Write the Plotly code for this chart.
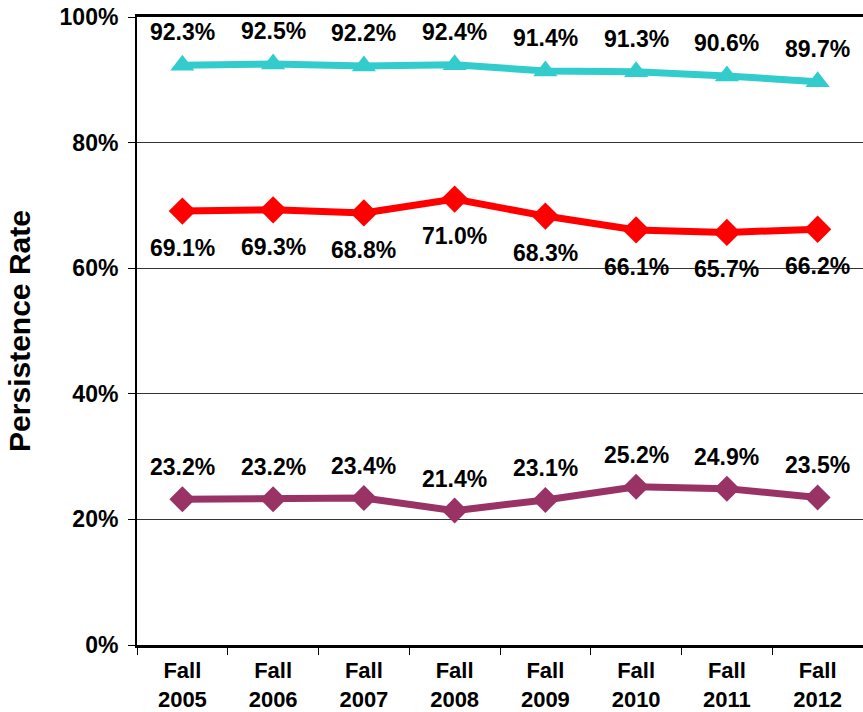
import plotly.graph_objects as go

terms = ["Fall<br>2005", "Fall<br>2006", "Fall<br>2007", "Fall<br>2008",
         "Fall<br>2009", "Fall<br>2010", "Fall<br>2011", "Fall<br>2012"]
cyan_vals = [92.3, 92.5, 92.2, 92.4, 91.4, 91.3, 90.6, 89.7]
red_vals = [69.1, 69.3, 68.8, 71.0, 68.3, 66.1, 65.7, 66.2]
purple_vals = [23.2, 23.2, 23.4, 21.4, 23.1, 25.2, 24.9, 23.5]

FONT = "Liberation Sans, Arial, sans-serif"

series = [
    (cyan_vals, "#33CCCC", "triangle-up", 21, 33),
    (red_vals, "#FF0000", "diamond", 21, -37),
    (purple_vals, "#993366", "diamond", 20, 32),
]

fig = go.Figure()
annotations = []
for vals, color, symbol, msize, shift in series:
    ys = [v / 100 for v in vals]
    fig.add_trace(go.Scatter(
        x=terms, y=ys, mode="lines+markers",
        line=dict(color=color, width=7),
        marker=dict(symbol=symbol, size=msize, color=color),
        showlegend=False, hoverinfo="skip",
    ))
    for t, v, y in zip(terms, vals, ys):
        annotations.append(dict(
            x=t, y=y, xref="x", yref="y", text=f"{v:.1f}%",
            showarrow=False, yshift=shift,
            font=dict(family=FONT, size=23, color="black", weight="bold"),
        ))

fig.update_layout(
    width=863, height=712,
    margin=dict(l=137, r=0, t=17, b=67),
    paper_bgcolor="white", plot_bgcolor="white",
    annotations=annotations,
    font=dict(family=FONT, color="black"),
)
fig.update_xaxes(
    type="category", range=[-0.5, 7.5], automargin=False,
    showline=True, linecolor="black", linewidth=3, mirror=True,
    ticks="outside", tickson="boundaries", ticklen=7, tickcolor="black", tickwidth=1,
    ticklabelstandoff=4, showgrid=False,
    tickfont=dict(family=FONT, size=22, color="black", weight="bold"),
)
fig.update_yaxes(
    range=[0, 1], dtick=0.2, tickformat=".0%", automargin=False,
    showline=True, linecolor="black", linewidth=2,
    ticks="outside", ticklen=7, tickcolor="black", tickwidth=1,
    ticklabelstandoff=5,
    showgrid=True, gridcolor="#333333", gridwidth=1, zeroline=False,
    tickfont=dict(family=FONT, size=23, color="black", weight="bold"),
    title=dict(text="Persistence Rate", standoff=20,
               font=dict(family=FONT, size=30, color="black", weight="bold")),
)

# drop the browser's default page margin so the figure sits at the window corner
fig.write_html("out.html", config={"displayModeBar": False},
               post_script="document.body.style.margin = '0';")
